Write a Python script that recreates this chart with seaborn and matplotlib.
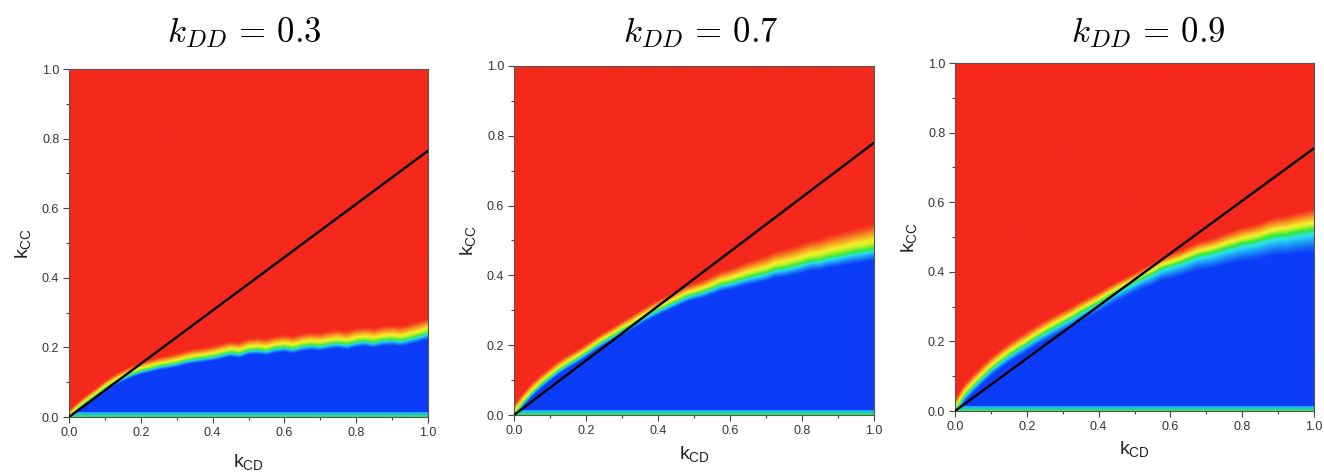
import numpy as np
import matplotlib
matplotlib.use("Agg")
import matplotlib.pyplot as plt
from matplotlib.colors import LinearSegmentedColormap
import seaborn as sns

# ---- data -----------------------------------------------------------------
k_dd_values = [0.3, 0.7, 0.9]

# k_CD positions at which the phase-boundary centre is given
boundary_kcd = [0.000, 0.025, 0.050, 0.075, 0.100, 0.125, 0.150, 0.175, 0.200, 0.225,
                0.250, 0.275, 0.300, 0.325, 0.350, 0.375, 0.400, 0.425, 0.450, 0.475,
                0.500, 0.525, 0.550, 0.575, 0.600, 0.625, 0.650, 0.675, 0.700, 0.725,
                0.750, 0.775, 0.800, 0.825, 0.850, 0.875, 0.900, 0.925, 0.950, 0.975,
                1.000]

# k_CC of the middle of the transition band (green level) for each k_DD
boundary_kcc_03 = [0.000, 0.024, 0.044, 0.062, 0.082, 0.098, 0.111, 0.123, 0.132, 0.138,
                   0.145, 0.149, 0.154, 0.161, 0.166, 0.169, 0.173, 0.179, 0.185, 0.182,
                   0.191, 0.193, 0.190, 0.197, 0.200, 0.196, 0.203, 0.206, 0.204, 0.209,
                   0.212, 0.208, 0.215, 0.218, 0.214, 0.220, 0.222, 0.219, 0.225, 0.232,
                   0.240]
boundary_kcc_07 = [0.000, 0.034, 0.063, 0.087, 0.108, 0.128, 0.145, 0.160, 0.177, 0.195,
                   0.212, 0.226, 0.242, 0.256, 0.272, 0.287, 0.300, 0.312, 0.324, 0.337,
                   0.345, 0.352, 0.362, 0.373, 0.378, 0.386, 0.394, 0.400, 0.406, 0.416,
                   0.420, 0.426, 0.433, 0.441, 0.443, 0.451, 0.455, 0.461, 0.466, 0.470,
                   0.476]
boundary_kcc_09 = [0.000, 0.042, 0.070, 0.096, 0.120, 0.141, 0.160, 0.177, 0.193, 0.210,
                   0.225, 0.240, 0.254, 0.268, 0.284, 0.298, 0.312, 0.328, 0.343, 0.357,
                   0.370, 0.384, 0.395, 0.410, 0.418, 0.426, 0.436, 0.447, 0.452, 0.458,
                   0.467, 0.474, 0.482, 0.486, 0.492, 0.501, 0.506, 0.508, 0.514, 0.518,
                   0.522]

# half-widths of the band below / above its centre at these k_CD values
width_kcd = [0.0, 0.25, 0.5, 0.75, 1.0]
width_below = [[0.010, 0.013, 0.016, 0.018, 0.021],
               [0.012, 0.015, 0.020, 0.030, 0.040],
               [0.020, 0.028, 0.035, 0.055, 0.075]]
width_above = [[0.016, 0.022, 0.028, 0.032, 0.036],
               [0.026, 0.021, 0.026, 0.045, 0.060],
               [0.030, 0.030, 0.022, 0.036, 0.050]]

# slope of the threshold line k_CC = s * k_CD
threshold_slope = [0.765, 0.780, 0.755]

boundaries = [boundary_kcc_03, boundary_kcc_07, boundary_kcc_09]

# ---- style ------------------------------------------------------------------
sns.set_theme(style="ticks")
plt.rcParams["font.family"] = ["Liberation Sans", "DejaVu Sans"]
plt.rcParams["axes.edgecolor"] = "#555555"
plt.rcParams["axes.linewidth"] = 0.8

cmap = LinearSegmentedColormap.from_list(
    "phase",
    [(0.00, "#0b3cf7"), (0.14, "#0b3cf7"), (0.30, "#1fa6f5"), (0.40, "#2ae2ee"),
     (0.50, "#31e83a"), (0.62, "#c6f02a"), (0.70, "#f4f02a"), (0.82, "#f79422"),
     (0.92, "#f5281c"), (1.00, "#f5281c")])

fig = plt.figure(figsize=(13.24, 4.73), dpi=100)
axes_rect = [
    [69 / 1324, 1 - 417 / 473, 359 / 1324, 348 / 473],
    [514 / 1324, 1 - 415 / 473, 360 / 1324, 349 / 473],
    [955 / 1324, 1 - 411 / 473, 359 / 1324, 348 / 473],
]
title_x = [244 / 1324, 701 / 1324, 1148 / 1324]
xlabel_pad = [10, 6, 5]

n = 500
gx = np.linspace(0, 1, n)
X, Y = np.meshgrid(gx, gx)
ticks = np.arange(0, 1.01, 0.2)

for i, (kdd, bkcc) in enumerate(zip(k_dd_values, boundaries)):
    ax = fig.add_axes(axes_rect[i])

    centre = np.interp(X, boundary_kcd, bkcc)
    wlo = np.interp(X, width_kcd, width_below[i])
    whi = np.interp(X, width_kcd, width_above[i])
    d = Y - centre
    w = np.where(d < 0, wlo, whi)
    frac = 0.5 + 0.5 * np.tanh(d / w)
    # thin strip along k_CC = 0
    frac = np.where(Y < 0.006, np.maximum(frac, 0.48),
                    np.where(Y < 0.014, np.maximum(frac, 0.33), frac))

    ax.imshow(frac, origin="lower", extent=[0, 1, 0, 1], cmap=cmap, vmin=0, vmax=1,
              interpolation="bilinear", aspect="auto", zorder=0)

    sns.lineplot(x=[0.0, 1.0], y=[0.0, threshold_slope[i]], ax=ax, color="black",
                 linewidth=1.7, zorder=3)

    ax.set_xlim(0, 1)
    ax.set_ylim(0, 1)
    ax.set_xticks(ticks)
    ax.set_yticks(ticks)
    ax.set_xticks(np.arange(0.1, 1.0, 0.2), minor=True)
    ax.set_yticks(np.arange(0.1, 1.0, 0.2), minor=True)
    ax.set_xticklabels([f"{v:.1f}" for v in ticks])
    ax.set_yticklabels([f"{v:.1f}" for v in ticks])
    ax.tick_params(axis="both", which="major", direction="out", length=4, width=0.8,
                   color="#444444", labelsize=9, labelcolor="#333333", pad=3)
    ax.tick_params(axis="both", which="minor", direction="out", length=2.5, width=0.8,
                   color="#444444")
    for sp in ax.spines.values():
        sp.set_visible(True)
        sp.set_color("#555555")

    ax.set_xlabel(r"k$_{\mathregular{CD}}$", fontsize=14, color="#222222",
                  labelpad=xlabel_pad[i])
    ax.set_ylabel(r"k$_{\mathregular{CC}}$", fontsize=14, color="#222222", labelpad=6)

    fig.text(title_x[i], 1 - 33 / 473, rf"$k_{{DD}}\,=\,{kdd}$", ha="center", va="center",
             fontsize=25, math_fontfamily="cm", color="black")

fig.savefig("out.png", dpi=100, facecolor="white")
